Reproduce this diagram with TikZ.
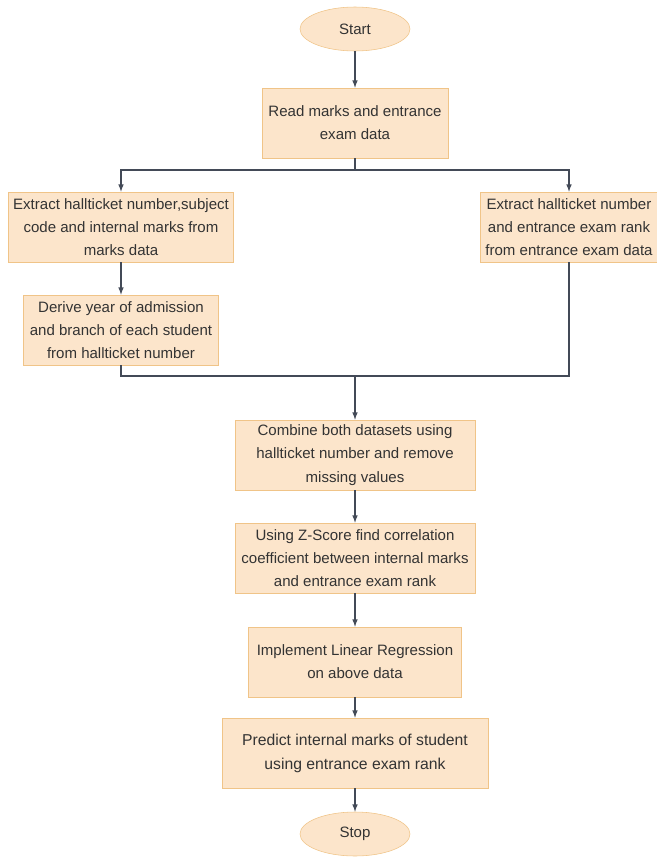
\documentclass[tikz,border=0pt]{standalone}
\usepackage{fontspec}
\setmainfont{Liberation Sans}
\usetikzlibrary{shapes.geometric}
\definecolor{boxfill}{HTML}{FCE5CB}
\definecolor{boxline}{HTML}{F0C488}
\definecolor{flowline}{HTML}{434A57}
\definecolor{boxtext}{HTML}{333333}
\begin{document}
\begin{tikzpicture}[every path/.style={>=latex},
	every node/.style={draw=boxline,fill=boxfill,text=boxtext,align=center,font=\fontsize{10.7}{16.5}\selectfont},
	stepbox/.style={rectangle,minimum height=1.75cm},
	terminal/.style={ellipse,minimum width=2.75cm,minimum height=1.1cm}]
		\useasboundingbox (0,0) rectangle (16.425,-21.5);
		\node[terminal] (start) at (8.875,-0.725) {Start};
		\node[stepbox,minimum width=4.65cm] (read) at (8.875,-3.075) {Read marks and entrance\\exam data};
		\node[stepbox,minimum width=5.55cm] (extract-marks) at (3.025,-5.675) {Extract hallticket number,subject\\code and internal marks from\\marks data};
		\node[stepbox,minimum width=4.35cm] (extract-rank) at (14.225,-5.675) {Extract hallticket number\\and entrance exam rank\\from entrance exam data};
		\node[stepbox,minimum width=4.875cm] (derive) at (3.025,-8.25) {Derive year of admission\\and branch of each student\\from hallticket number};
		\node[stepbox,minimum width=6cm] (combine) at (8.875,-11.375) {Combine both datasets using\\hallticket number and remove\\missing values};
		\node[stepbox,minimum width=6cm] (zscore) at (8.875,-13.95) {Using Z-Score find correlation\\coefficient between internal marks\\and entrance exam rank};
		\node[stepbox,minimum width=5.325cm] (regression) at (8.875,-16.55) {Implement Linear Regression\\on above data};
		\node[stepbox,minimum width=6.65cm,font=\fontsize{11.2}{17}\selectfont] (predict) at (8.875,-18.825) {Predict internal marks of student\\using entrance exam rank};
		\node[terminal] (stop) at (8.875,-20.85) {Stop};
		\coordinate (split) at (8.875,-4.25);
		\coordinate (join) at (8.875,-9.4);
		
		\begin{scope}[draw=flowline,line width=0.8pt]
		\draw[->] (start) edge (read);
		\draw (read) -- (split);
		\draw[->] (split) -| (extract-marks);
		\draw[->] (split) -| (extract-rank);
		\draw[->] (extract-marks) edge (derive);
		\draw (derive) |- (join);
		\draw (extract-rank) |- (join);
		\draw[->] (join) -- (combine);
		\draw[->] (combine) edge (zscore);
		\draw[->] (zscore) edge (regression);
		\draw[->] (regression) edge (predict);
		\draw[->] (predict) edge (stop);
		\end{scope}
	\end{tikzpicture}
\end{document}
